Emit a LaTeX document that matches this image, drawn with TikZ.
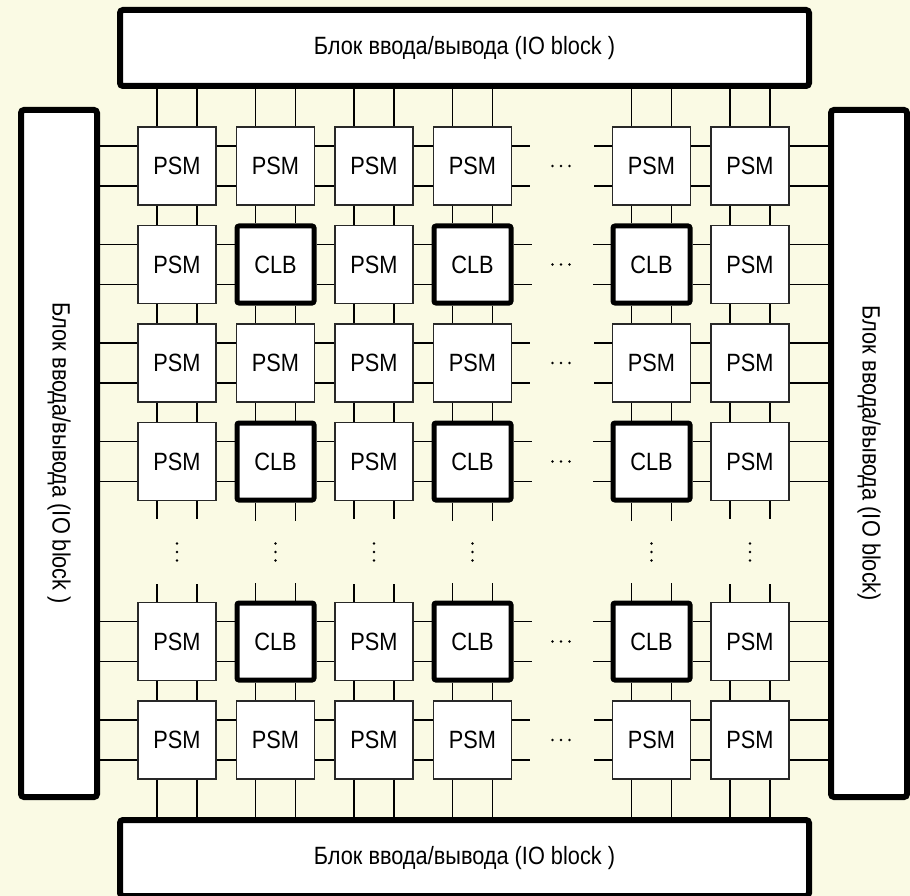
\documentclass[tikz,border=0pt]{standalone}
\usepackage{fontspec}
\setmainfont{Liberation Sans}[FakeStretch=0.87]
\definecolor{paper}{RGB}{250,250,228}
\definecolor{edge}{RGB}{40,40,40}
\begin{document}
\begin{tikzpicture}[x=1pt,y=1pt,line width=1.5pt,
  psm/.style={draw=edge,fill=white,line width=1.2pt,minimum size=78pt,inner sep=0pt,font=\fontsize{25}{29}\selectfont},
  clb/.style={psm,draw=black,line width=5pt,minimum size=77pt,rounded corners=2pt},
  io/.style={draw=black,fill=white,line width=6pt,rounded corners=3pt,inner sep=0pt,font=\fontsize{25}{29}\selectfont}]
\useasboundingbox (0,0) rectangle (910,-896); \clip (0,0) rectangle (910,-896); \fill[paper] (0,0) rectangle (910,-896);
\node[io,minimum width=689pt,minimum height=76pt] (iot) at (464.5,-48) {Блок ввода/вывода (IO block )};
\node[io,minimum width=689pt,minimum height=76pt] (iob) at (464.5,-858) {Блок ввода/вывода (IO block )};
\node[io,minimum width=76pt,minimum height=687pt] (iol) at (59,-453.5) {\rotatebox{-90}{Блок ввода/вывода (IO block )}};
\node[io,minimum width=76pt,minimum height=687pt] (ior) at (869,-453.5) {\rotatebox{-90}{Блок ввода/вывода (IO block)}};
\foreach \r/\y/\rk in {1/166/0,2/264.5/1,3/363/0,4/461.5/1,5/641.5/1,6/740/0}
  \foreach \c/\x/\ck in {1/177/0,2/275.5/1,3/374/0,4/472.5/1,5/651.5/1,6/750/0}{
    \ifnum\rk\ck=11 \node[clb] (b\r\c) at (\x,-\y) {CLB}; \else \node[psm] (b\r\c) at (\x,-\y) {PSM}; \fi}
\foreach \s in {-20,20}{
  \foreach \r in {1,...,6}{
    \foreach \c/\d in {1/2,2/3,3/4,5/6} \draw ([yshift=\s pt]b\r\c.east) -- ([yshift=\s pt]b\r\d.west);
    \draw ([yshift=\s pt]b\r1.west) -- ([yshift=\s pt]b\r1.west -| iol.east);
    \draw ([yshift=\s pt]b\r6.east) -- ([yshift=\s pt]b\r6.east -| ior.west);
    \draw ([yshift=\s pt]b\r4.east) -- ++(18,0); \draw ([yshift=\s pt]b\r5.west) -- ++(-18,0);}
  \foreach \c in {1,...,6}{
    \foreach \r/\q in {1/2,2/3,3/4,5/6} \draw ([xshift=\s pt]b\r\c.south) -- ([xshift=\s pt]b\q\c.north);
    \draw ([xshift=\s pt]b1\c.north) -- ([xshift=\s pt]b1\c.north |- iot.south);
    \draw ([xshift=\s pt]b6\c.south) -- ([xshift=\s pt]b6\c.south |- iob.north);
    \draw ([xshift=\s pt]b4\c.south) -- ++(0,-18); \draw ([xshift=\s pt]b5\c.north) -- ++(0,18);}}
\foreach \y in {166,264.5,363,461.5,641.5,740} \foreach \dx in {-8.5,0,8.5} \fill (561+\dx,-\y) circle (1.4);
\foreach \x in {177,275.5,374,472.5,651.5,750} \foreach \dy in {-8.5,0,8.5} \fill (\x,-552+\dy) circle (1.4);
\end{tikzpicture}
\end{document}
